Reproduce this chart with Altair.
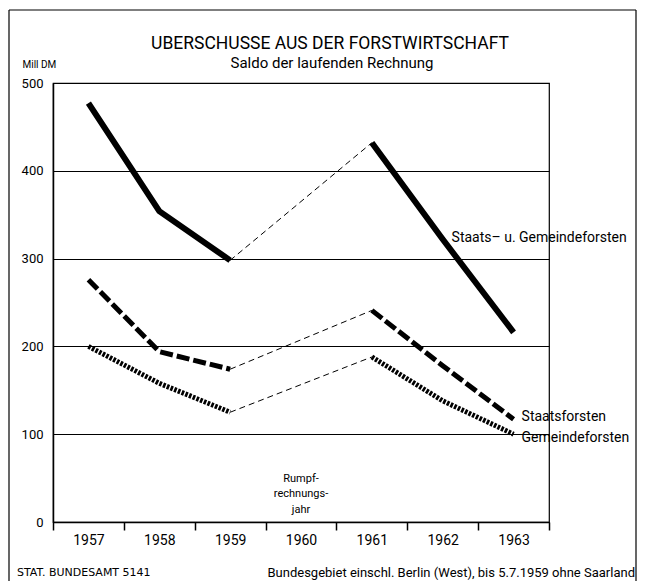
import altair as alt
import pandas as pd

# ---- data ----
years = ["1957", "1958", "1959", "1960", "1961", "1962", "1963"]
series_names = ["Staats- u. Gemeindeforsten", "Staatsforsten", "Gemeindeforsten"]
gesamt = [477, 354, 298, None, 432, 322, 216]
staats = [276, 194, 174, None, 241, 178, 117]
gemeinde = [200, 158, 125, None, 188, 138, 100]

label_texts = ["Staats\u2013 u. Gemeindeforsten", "Staatsforsten", "Gemeindeforsten"]
label_years = ["1963", "1963", "1963"]
label_values = [323, 120, 96]
label_dx = [-62, 8, 8]

note_lines = ["Rumpf-", "rechnungs-", "jahr"]
y_ticks = [0, 100, 200, 300, 400, 500]

title_text = "UBERSCHUSSE AUS DER FORSTWIRTSCHAFT"
subtitle_text = "Saldo der laufenden Rechnung"
source_text = "STAT. BUNDESAMT 5141"
footnote_text = "Bundesgebiet einschl. Berlin (West), bis 5.7.1959 ohne Saarland"

FONT = "Roboto, Liberation Sans, sans-serif"

# ---- build tables ----
rows = []
conn = []
for name, vals in zip(series_names, [gesamt, staats, gemeinde]):
    for i, (yr, v) in enumerate(zip(years, vals)):
        if v is None:
            continue
        rows.append({"series": name, "seg": name + ("_a" if i <= 2 else "_b"),
                     "year": yr, "value": v})
        if yr in ("1959", "1961"):
            conn.append({"series": name, "year": yr, "value": v})
df = pd.DataFrame(rows)
conn_df = pd.DataFrame(conn)

xscale = alt.Scale(type="band", domain=years, paddingInner=0, paddingOuter=0)
yscale = alt.Scale(domain=[0, 500], nice=False)

X = alt.X("year:O", scale=xscale, bandPosition=0.5,
          axis=alt.Axis(title=None, labelAngle=0, tickBand="extent", tickSize=8,
                        tickWidth=1.5, domainWidth=1.5, labelFontSize=14,
                        labelPadding=3, labelFont=FONT, grid=False))
Y = alt.Y("value:Q", scale=yscale,
          axis=alt.Axis(values=y_ticks, grid=True, gridColor="black", gridWidth=1,
                        ticks=False, domainWidth=1.5, labelPadding=10,
                        labelFontSize=13, labelFont=FONT,
                        title="Mill DM", titleAngle=0, titleX=-31, titleY=-16,
                        titleAlign="left", titleBaseline="alphabetic",
                        titleFontWeight="normal", titleFontSize=10, titleFont=FONT))

base = alt.Chart(df)

solid = base.transform_filter(alt.datum.series == series_names[0]).mark_line(
    color="black", strokeWidth=6, strokeCap="butt", strokeJoin="miter"
).encode(x=X, y=Y, detail="seg:N")

dashed = base.transform_filter(alt.datum.series == series_names[1]).mark_line(
    color="black", strokeWidth=5, strokeDash=[13, 4], strokeCap="butt"
).encode(x=X, y=Y, detail="seg:N")

dotted = base.transform_filter(alt.datum.series == series_names[2]).mark_line(
    color="black", strokeWidth=5, strokeDash=[2.6, 1.4], strokeCap="butt"
).encode(x=X, y=Y, detail="seg:N")

connectors = alt.Chart(conn_df).mark_line(
    color="black", strokeWidth=1, strokeDash=[6, 4]
).encode(x=X, y=Y, detail="series:N")

label_layers = []
for t, yr, v, dx in zip(label_texts, label_years, label_values, label_dx):
    label_layers.append(
        alt.Chart(pd.DataFrame({"year": [yr], "value": [v], "text": [t]})).mark_text(
            align="left", baseline="middle", fontSize=14, font=FONT, color="black", dx=dx
        ).encode(x=X, y=Y, text="text:N")
    )

note = alt.Chart(pd.DataFrame({"year": ["1960"], "value": [49],
                               "text": ["\n".join(note_lines)]})).mark_text(
    align="center", baseline="middle", fontSize=11, font=FONT, color="black",
    lineBreak="\n", lineHeight=15.5
).encode(x=X, y=Y, text="text:N")

one = pd.DataFrame({"k": [0]})
border_left = alt.Chart(one).mark_rule(color="black", strokeWidth=1.2).encode(
    x=alt.value(-44), y=alt.value(-73), y2=alt.value(498))
border_top = alt.Chart(one).mark_rule(color="black", strokeWidth=1.2).encode(
    x=alt.value(-44), x2=alt.value(583), y=alt.value(-73))
border_right = alt.Chart(one).mark_rule(color="black", strokeWidth=1.2).encode(
    x=alt.value(583), y=alt.value(-73), y2=alt.value(498))

title_mark = alt.Chart(one).mark_text(
    align="center", baseline="middle", fontSize=17.5, font=FONT, color="black"
).encode(x=alt.value(277), y=alt.value(-39), text=alt.value(title_text))
subtitle_mark = alt.Chart(one).mark_text(
    align="center", baseline="middle", fontSize=15, font=FONT, color="black"
).encode(x=alt.value(279), y=alt.value(-20), text=alt.value(subtitle_text))

foot_left = alt.Chart(one).mark_text(
    align="left", baseline="middle", fontSize=11, font="DejaVu Sans", color="black"
).encode(x=alt.value(-36), y=alt.value(490), text=alt.value(source_text))
foot_right = alt.Chart(one).mark_text(
    align="right", baseline="middle", fontSize=13, font=FONT, color="black"
).encode(x=alt.value(582), y=alt.value(490), text=alt.value(footnote_text))

chart = alt.layer(
    connectors, dotted, dashed, solid, *label_layers, note,
    border_left, border_top, border_right, title_mark, subtitle_mark,
    foot_left, foot_right
).properties(
    width=496, height=439,
    autosize=alt.AutoSizeParams(type="none"),
    padding={"left": 45, "top": 75, "right": 88, "bottom": 59},
).configure_view(
    stroke="black", strokeWidth=1.2
).configure_axis(
    domainColor="black", tickColor="black", labelColor="black", titleColor="black"
)

chart.save("out.html", embed_options={"renderer": "svg", "actions": False})
